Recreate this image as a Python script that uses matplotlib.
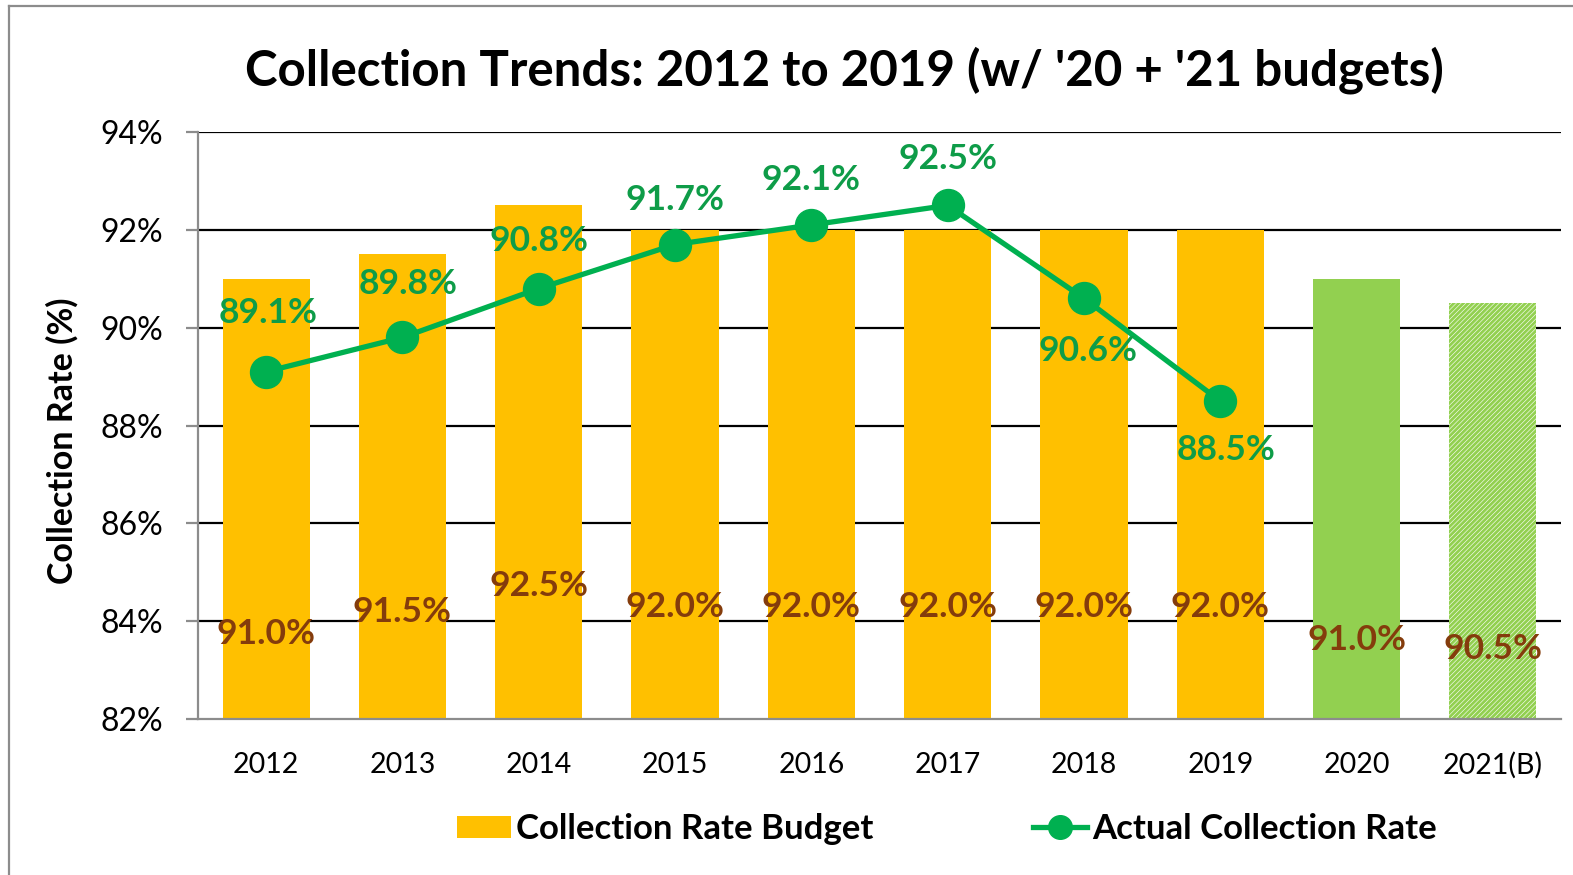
import matplotlib
matplotlib.use("Agg")
import matplotlib.pyplot as plt
from matplotlib.patches import Patch
from matplotlib.lines import Line2D

# ---- data ----
categories = ["2012", "2013", "2014", "2015", "2016", "2017", "2018", "2019", "2020", "2021(B)"]
budget = [91.0, 91.5, 92.5, 92.0, 92.0, 92.0, 92.0, 92.0, 91.0, 90.5]
actual_years = ["2012", "2013", "2014", "2015", "2016", "2017", "2018", "2019"]
actual = [89.1, 89.8, 90.8, 91.7, 92.1, 92.5, 90.6, 88.5]
y_ticks = [82, 84, 86, 88, 90, 92, 94]

# ---- styling ----
FONT = "Lato"
plt.rcParams["font.family"] = [FONT, "DejaVu Sans"]
YELLOW = "#FFC000"
LGREEN = "#92D050"
LINE_GREEN = "#00B050"
LABEL_GREEN = "#0E9C48"
BROWN = "#843C0C"
GRID = "#000000"
AXGREY = "#8C8C8C"

bar_colors = [YELLOW] * 8 + [LGREEN, "white"]
bar_hatch = [None] * 9 + ["///////"]
budget_label_y = [83.74, 84.19, 84.72, 84.29, 84.29, 84.29, 84.29, 84.29, 83.62, 83.43]
actual_label_off = [59, 53, 48, 45, 45, 46, -53, -49]
actual_label_dx = [2, 6, 0, 0, 0, 0, 4, 6]

W, H = 1573, 875
fig = plt.figure(figsize=(W / 100, H / 100), dpi=100)
ax = fig.add_axes([198 / W, 1 - 719 / H, (1561 - 198) / W, (719 - 132) / H])

x = list(range(len(categories)))
plt.rcParams["hatch.linewidth"] = 2.0
bars = ax.bar(x, budget, width=0.64, color=bar_colors, zorder=2, linewidth=0)
for b, h in zip(bars, bar_hatch):
    if h:
        b.set_hatch(h)
        b.set_edgecolor(LGREEN)

ax.set_ylim(82, 94)
ax.set_xlim(-0.5, len(categories) - 0.5)
ax.set_yticks(y_ticks)
ax.set_yticklabels([f"{t}%" for t in y_ticks])
ax.set_xticks(x)
ax.set_xticklabels(categories)

for t in y_ticks[1:]:
    ax.axhline(t, color=GRID, lw=1.6, zorder=1)

for s in ["top", "right"]:
    ax.spines[s].set_visible(False)
ax.spines["left"].set_color(AXGREY)
ax.spines["bottom"].set_color(AXGREY)
ax.spines["left"].set_linewidth(1.6)
ax.spines["bottom"].set_linewidth(1.6)
ax.spines["left"].set_zorder(3)
ax.spines["bottom"].set_zorder(3)
ax.tick_params(axis="y", length=9, width=1.6, color=AXGREY, labelsize=23, pad=16)
ax.tick_params(axis="x", length=0, labelsize=20.5, pad=24)

ax.set_ylabel("Collection Rate (%)", fontsize=24.5, fontweight="bold")
ax.yaxis.set_label_coords((62 - 198) / (1561 - 198), (719 - 441) / (719 - 132))
ax.yaxis.label.set_va("center")

xa = [categories.index(c) for c in actual_years]
ax.plot(xa, actual, color=LINE_GREEN, lw=3.8, marker="o", markersize=23, zorder=4)

for xi, v, ly in zip(x, budget, budget_label_y):
    ax.text(xi, ly, f"{v:.1f}%", ha="center", va="center", fontsize=25.5,
            fontweight="bold", color=BROWN, zorder=5)

for xi, v, off, dx in zip(xa, actual, actual_label_off, actual_label_dx):
    ax.annotate(f"{v:.1f}%", (xi, v), xytext=(dx, off), textcoords="offset pixels",
                ha="center", va="center", fontsize=25.5, fontweight="bold",
                color=LABEL_GREEN, zorder=5)

fig.text(0.5 * (243 + 1445) / W, 1 - 70 / H,
         "Collection Trends: 2012 to 2019 (w/ '20 + '21 budgets)",
         ha="center", va="center", fontsize=35.5, fontweight="bold")

handles = [Patch(facecolor=YELLOW, edgecolor="none"),
           Line2D([0], [0], color=LINE_GREEN, lw=3.8, marker="o", markersize=17)]
leg = fig.legend(handles, ["Collection Rate Budget", "Actual Collection Rate"],
                 loc="center", bbox_to_anchor=(947 / W, 1 - 829 / H), ncol=2,
                 frameon=False, prop={"family": FONT, "weight": "bold", "size": 25},
                 handlelength=1.55, handleheight=0.6, handletextpad=0.15,
                 columnspacing=4.6)

# outer chart border (top and left visible)
fig.add_artist(Line2D([9 / W, 9 / W], [0, 1 - 6 / H], transform=fig.transFigure,
                      color="#8C8C8C", lw=1.6))
fig.add_artist(Line2D([9 / W, 1], [1 - 6 / H, 1 - 6 / H], transform=fig.transFigure,
                      color="#8C8C8C", lw=1.6))

fig.savefig("out.png", dpi=100)
